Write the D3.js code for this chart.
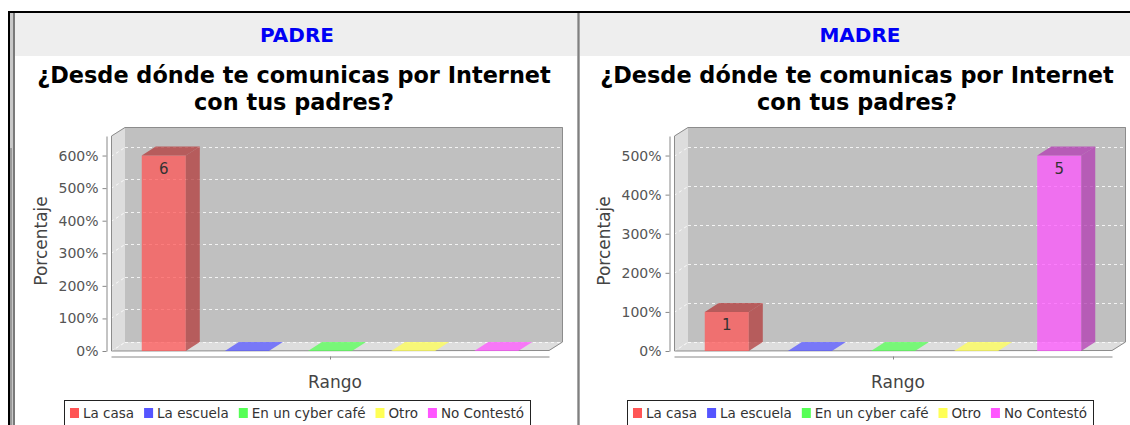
<!DOCTYPE html>
<html>
<head>
<meta charset="utf-8">
<script src="https://cdn.jsdelivr.net/npm/d3@7"></script>
<style>
  html, body { margin: 0; padding: 0; background: #ffffff; }
  svg { display: block; font-family: "DejaVu Sans", Verdana, sans-serif; }
</style>
</head>
<body>
<svg id="chart" width="1130" height="425"></svg>
<script>
// ---------- data ----------
const categories = ["La casa", "La escuela", "En un cyber café", "Otro", "No Contestó"];
const padreValues = [6, 0, 0, 0, 0];
const madreValues = [1, 0, 0, 0, 5];
const seriesColors = ["#ff5555", "#5555ff", "#55ff55", "#ffff55", "#ff55ff"];
const panelTitles = ["PADRE", "MADRE"];
const chartTitleLines = ["¿Desde dónde te comunicas por Internet", "con tus padres?"];
const yAxisLabel = "Porcentaje";
const xAxisLabel = "Rango";

// ---------- page frame ----------
const svg = d3.select("#chart");
svg.append("rect").attr("x", 15).attr("y", 13).attr("width", 1115).attr("height", 43).attr("fill", "#eeeeee");
svg.append("rect").attr("x", 8).attr("y", 11).attr("width", 1122).attr("height", 2).attr("fill", "#000");
svg.append("rect").attr("x", 8).attr("y", 11).attr("width", 2).attr("height", 414).attr("fill", "#000");
svg.append("rect").attr("x", 10).attr("y", 13).attr("width", 3).attr("height", 412).attr("fill", "#c8c8c8");
svg.append("rect").attr("x", 13).attr("y", 13).attr("width", 2).attr("height", 412).attr("fill", "#7a7a7a");
svg.append("rect").attr("x", 10).attr("y", 148).attr("width", 2).attr("height", 277).attr("fill", "#9a9a9a");
svg.append("rect").attr("x", 577).attr("y", 13).attr("width", 3).attr("height", 412).attr("fill", "#a8a8a8");
svg.append("rect").attr("x", 578).attr("y", 13).attr("width", 1).attr("height", 412).attr("fill", "#808080");

// ---------- one chart ----------
function drawChart(offsetX, values, panelTitle) {
  const g = svg.append("g").attr("transform", `translate(${offsetX},0)`);
  const fx0 = 111, fx1 = 549, fyTop = 136, fyBot = 351;
  const dx = 14, dy = 9;
  const maxV = d3.max(values);
  const y = d3.scaleLinear().domain([0, maxV * 1.1]).range([fyBot, fyTop]);
  const x = d3.scaleBand().domain(categories).range([fx0, fx1]).paddingInner(0.47).paddingOuter(0.37);
  const ticks = d3.range(0, maxV + 1);

  // panel title
  g.append("text").attr("x", 297).attr("y", 42).attr("text-anchor", "middle")
    .attr("font-size", 20).attr("font-weight", "bold").attr("fill", "#0000f5").text(panelTitle);

  // chart title
  g.selectAll(".ctitle").data(chartTitleLines).join("text")
    .attr("x", 294).attr("y", (d, i) => 83 + i * 27).attr("text-anchor", "middle")
    .attr("font-size", 22.4).attr("font-weight", "bold").attr("fill", "#000").text(d => d);

  // walls
  g.append("rect").attr("x", fx0 + dx).attr("y", fyTop - dy).attr("width", fx1 - fx0).attr("height", fyBot - fyTop)
    .attr("fill", "#c0c0c0");
  g.append("polygon").attr("points", [[fx0, fyTop], [fx0 + dx, fyTop - dy], [fx0 + dx, fyBot - dy], [fx0, fyBot]].join(" "))
    .attr("fill", "#dddddd");
  g.append("polygon").attr("points", [[fx0, fyBot], [fx0 + dx, fyBot - dy], [fx1 + dx, fyBot - dy], [fx1, fyBot]].join(" "))
    .attr("fill", "#dddddd");

  // gridlines
  const grid = g.append("g").attr("stroke", "#ffffff").attr("stroke-opacity", 0.8)
    .attr("stroke-dasharray", "3,3").attr("stroke-width", 1);
  ticks.forEach(v => {
    const yy = Math.round(y(v)) + 0.5;
    grid.append("line").attr("x1", fx0 + dx).attr("x2", fx1 + dx).attr("y1", yy - dy).attr("y2", yy - dy);
    grid.append("line").attr("x1", fx0).attr("x2", fx0 + dx).attr("y1", yy).attr("y2", yy - dy);
  });

  // outline
  g.append("path")
    .attr("d", `M${fx0 + 0.5},${fyBot} L${fx0 + 0.5},${fyTop} L${fx0 + dx},${fyTop - dy + 0.5} L${fx1 + dx - 0.5},${fyTop - dy + 0.5} L${fx1 + dx - 0.5},${fyBot - dy} L${fx1},${fyBot - 0.5} Z`)
    .attr("fill", "none").attr("stroke", "#8c8c8c").attr("stroke-width", 1);

  // bars
  const bars = g.append("g");
  categories.forEach((c, i) => {
    const v = values[i];
    const col = seriesColors[i];
    const base = d3.rgb(col);
    const darkCol = d3.rgb(base.r * 0.7, base.g * 0.7, base.b * 0.7).formatHex();
    const x0 = x(c), w = x.bandwidth(), yt = y(v), yb = y(0);
    if (v > 0) {
      bars.append("rect").attr("x", x0).attr("y", yt).attr("width", w).attr("height", yb - yt)
        .attr("fill", col).attr("fill-opacity", 0.75);
      bars.append("polygon").attr("points", [[x0 + w, yt], [x0 + w + dx, yt - dy], [x0 + w + dx, yb - dy], [x0 + w, yb]].join(" "))
        .attr("fill", darkCol).attr("fill-opacity", 0.75);
      bars.append("polygon").attr("points", [[x0, yt], [x0 + dx, yt - dy], [x0 + w + dx, yt - dy], [x0 + w, yt]].join(" "))
        .attr("fill", darkCol).attr("fill-opacity", 0.75);
      bars.append("text").attr("x", x0 + w / 2).attr("y", yt + 18).attr("text-anchor", "middle")
        .attr("font-size", 15).attr("fill", "#333").text(v);
    } else {
      bars.append("polygon").attr("points", [[x0, yb], [x0 + dx, yb - dy], [x0 + w + dx, yb - dy], [x0 + w, yb]].join(" "))
        .attr("fill", col).attr("fill-opacity", 0.75);
    }
  });

  // y axis
  const yAxis = g.append("g").attr("transform", "translate(106.5,0)")
    .call(d3.axisLeft(y).tickValues(ticks).tickFormat(d3.format(".0%")).tickSizeInner(4).tickSizeOuter(0).tickPadding(4));
  yAxis.select(".domain").attr("stroke", "#888");
  yAxis.selectAll(".tick line").attr("stroke", "#888");
  yAxis.selectAll(".tick text").attr("fill", "#555").attr("font-size", 14)
    .attr("font-family", "DejaVu Sans, sans-serif");

  // category axis
  const xl = d3.scaleLinear().domain([0, 1]).range([fx0, fx1]);
  const xAxis = g.append("g").attr("transform", "translate(0,356.5)")
    .call(d3.axisBottom(xl).tickValues([0.5]).tickFormat("").tickSizeInner(3).tickSizeOuter(0));
  xAxis.select(".domain").attr("stroke", "#888");
  xAxis.selectAll(".tick line").attr("stroke", "#888");

  // axis labels
  g.append("text").attr("transform", "translate(47,241) rotate(-90)").attr("text-anchor", "middle")
    .attr("font-size", 17).attr("fill", "#444").text(yAxisLabel);
  g.append("text").attr("x", 335).attr("y", 388).attr("text-anchor", "middle")
    .attr("font-size", 17).attr("fill", "#444").text(xAxisLabel);

  // legend
  const lg = g.append("g");
  lg.append("rect").attr("x", 64.5).attr("y", 400.5).attr("width", 466).attr("height", 40)
    .attr("fill", "#fff").attr("stroke", "#222").attr("stroke-width", 1);
  const items = lg.append("g");
  let cx = 0;
  categories.forEach((c, i) => {
    items.append("rect").attr("x", cx).attr("y", 408).attr("width", 9).attr("height", 10).attr("fill", seriesColors[i]);
    const t = items.append("text").attr("x", cx + 13).attr("y", 418).attr("font-size", 13.5).attr("fill", "#333").text(c);
    cx += 13 + t.node().getComputedTextLength() + 10;
  });
  const totalW = cx - 10;
  items.attr("transform", `translate(${64 + (466 - totalW) / 2},0)`);
}

drawChart(0, padreValues, panelTitles[0]);
drawChart(563, madreValues, panelTitles[1]);
</script>
</body>
</html>
